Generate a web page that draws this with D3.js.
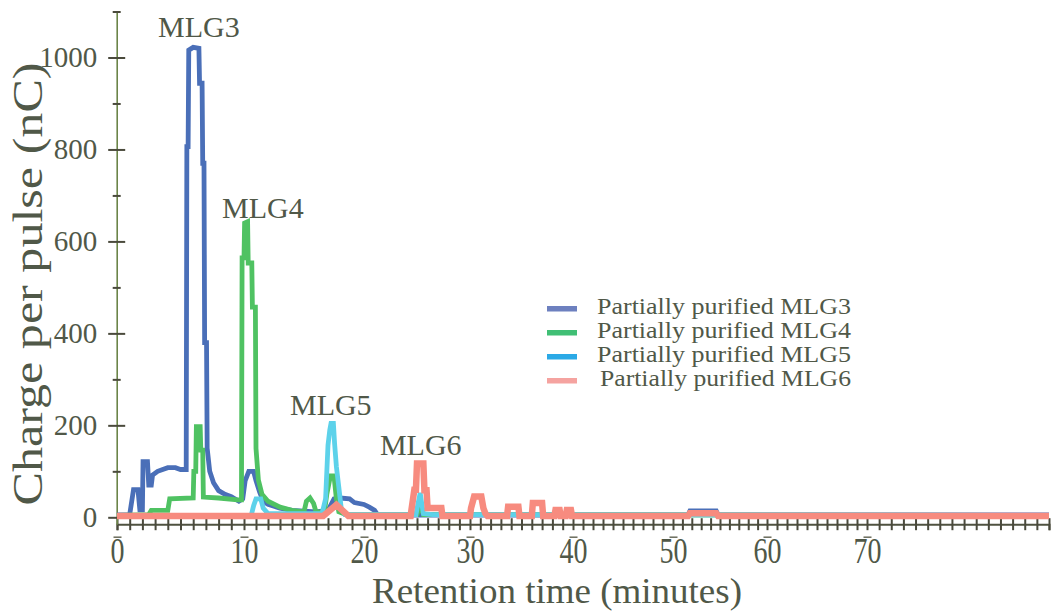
<!DOCTYPE html>
<html>
<head>
<meta charset="utf-8">
<script src="https://cdn.jsdelivr.net/npm/d3@7"></script>
<style>
  body { margin: 0; background: #ffffff; }
  svg { display: block; }
  svg text { font-family: "Liberation Serif", Tinos, "Times New Roman", Times, serif !important; }
</style>
</head>
<body>
<svg id="chart" width="1051" height="614"></svg>
<script>
// Pulsed amperometric detector traces: [retention time (min), charge per pulse (nC)]
const mlg3 = [[0,5],[1.0,6],[1.3,60],[1.65,60],[1.8,16],[2.0,16],[2.05,121],[2.4,121],[2.5,70],[2.7,70],
  [2.8,92],[3.2,100],[3.6,104],[4.0,108],[4.6,108],[5.0,104],[5.45,104],[5.5,806],[5.6,806],[5.65,1016],
  [6.0,1022],[6.45,1020],[6.5,944],[6.7,944],[6.75,770],[6.85,770],[6.9,380],[7.05,380],[7.1,150],
  [7.3,100],[7.6,75],[8.0,58],[8.5,50],[9.0,45],[9.6,35],[9.9,40],[10.1,80],[10.4,100],[10.8,100],
  [11.0,80],[11.3,55],[11.6,35],[12.0,28],[13.0,20],[14.0,15],[16.0,12],[17.0,15],[17.5,40],[18.0,42],
  [18.8,40],[19.2,32],[20.0,28],[20.5,22],[21.0,15],[21.3,5],[51.6,5],[51.8,14],[54.6,14],[54.8,5],[85,5]];

const mlg4 = [[0,4],[2.5,6],[2.7,15],[4.0,15],[4.15,40],[6.0,42],[6.05,100],[6.2,100],[6.25,197],
  [6.55,197],[6.6,146],[6.75,146],[6.8,44],[8.0,42],[9.5,38],[9.8,38],[9.85,564],[10.0,564],[10.05,640],
  [10.3,643],[10.35,553],[10.65,553],[10.7,457],[10.95,457],[11.0,150],[11.2,81],[11.5,50],[12.0,35],
  [13.0,22],[14.0,15],[15.0,12],[15.2,35],[15.5,42],[15.8,30],[16.0,12],[16.7,12],[16.9,50],[17.2,90],
  [17.5,90],[17.7,40],[17.9,12],[18.5,6],[25.0,6],[25.2,20],[25.4,20],[25.6,6],[85,4]];

const mlg5 = [[0,4],[10.6,4],[10.8,25],[11.0,40],[11.4,40],[11.6,20],[12.0,8],[16.5,8],[16.8,40],
  [17.0,157],[17.15,190],[17.25,204],[17.45,204],[17.55,160],[17.7,110],[17.9,66],[18.1,20],[18.4,6],
  [24.9,6],[25.1,30],[25.3,53],[25.45,30],[25.6,8],[26.5,6],[85,4]];

const mlg6 = [[0,3],[16.6,3],[17.7,27],[18.7,3],[24.4,3],[24.5,20],[24.75,60],[24.9,60],[25.0,117],
  [25.6,117],[25.7,59],[25.9,59],[26.0,20],[27.3,20],[27.4,3],[30.0,3],[30.1,20],[30.4,45],[31.1,45],
  [31.3,20],[31.5,8],[31.7,3],[33.6,3],[33.7,23],[34.7,23],[34.8,3],[36.0,3],[36.1,31],[37.0,31],
  [37.1,3],[38.2,3],[38.3,16],[38.7,16],[38.8,3],[39.3,3],[39.4,16],[39.8,16],[39.9,3],[51.6,3],
  [51.8,9],[54.6,9],[54.8,3],[85,3]];

const seriesNames = ["Partially purified MLG3", "Partially purified MLG4",
                     "Partially purified MLG5", "Partially purified MLG6"];
const peakNames = ["MLG3", "MLG4", "MLG5", "MLG6"];
const xTickLabels = [0, 10, 20, 30, 40, 50, 60, 70];
const yTickLabels = [0, 200, 400, 600, 800, 1000];

// ---- layout & style ----
const serif = '"Liberation Serif", Tinos, "Times New Roman", Times, serif';
const lineColors   = ["#4a6fb8", "#4fc262", "#5dd2ea", "#f78b7f"];
const swatchColors = ["#6d80bf", "#40bf75", "#2ba9e6", "#f5a3a0"];
const lineWidths   = [4.8, 4.8, 4.8, 6.5];
const textColor = "#505848";
const tickColor = "#4a4a3c";

const svg = d3.select("#chart").attr("font-family", serif);

// Time axis: piecewise-linear scale through the labelled minute stops
const x = d3.scaleLinear()
  .domain([0, 10, 20, 30, 40, 50, 60, 70, 85])
  .range([117, 244, 364, 470, 573, 673, 767, 867, 1049]);
const y = d3.scaleLinear().domain([-15, 1100]).range([524.2, 11.5]);

// ---- x axis ----
const xAxisG = svg.append("g")
  .attr("transform", `translate(0,${y(-15)})`)
  .call(d3.axisBottom(x)
    .tickValues(d3.range(0, 86, 1))
    .tickSizeOuter(0)
    .tickSize(6)
    .tickFormat(d => xTickLabels.includes(d) ? d : ""));
xAxisG.attr("font-family", serif);
xAxisG.select(".domain").attr("stroke", "#4f5240").attr("stroke-width", 2);
xAxisG.selectAll(".tick line").attr("y1", -6).attr("y2", 6)
  .attr("stroke", tickColor).attr("stroke-width", 2);
xAxisG.selectAll(".tick text")
  .attr("y", 30.8).attr("dy", null)
  .attr("transform", "scale(1,1.25)")
  .attr("fill", textColor)
  .attr("font-size", 28);
// short bar mark above each labelled minute
xAxisG.selectAll(".tick")
  .filter(d => xTickLabels.includes(d))
  .append("line")
  .attr("x1", -4).attr("x2", 4)
  .attr("y1", 13).attr("y2", 13)
  .attr("stroke", "#6a6c5c").attr("stroke-width", 1.5);

// ---- y axis ----
const yAxisG = svg.append("g")
  .attr("transform", `translate(${x(0) - 0.3},0)`)
  .call(d3.axisLeft(y)
    .tickValues(d3.range(0, 1101, 100))
    .tickSizeOuter(0)
    .tickFormat(d => yTickLabels.includes(d) ? d : ""));
yAxisG.attr("font-family", serif);
yAxisG.select(".domain").attr("stroke", "#6b8448").attr("stroke-width", 1.6);
yAxisG.selectAll(".tick line")
  .attr("x1", d => yTickLabels.includes(d) ? -8.5 : -4)
  .attr("x2", d => yTickLabels.includes(d) ? 8.5 : 4)
  .attr("stroke", tickColor).attr("stroke-width", 2);
yAxisG.selectAll(".tick text")
  .attr("x", -19.5)
  .attr("fill", textColor)
  .attr("font-size", 29);

// ---- traces ----
const line = d3.line().x(d => x(d[0])).y(d => y(d[1]));
[mlg3, mlg4, mlg5, mlg6].forEach((s, i) => {
  svg.append("path")
    .datum(s)
    .attr("d", line)
    .attr("fill", "none")
    .attr("stroke", lineColors[i])
    .attr("stroke-width", lineWidths[i])
    .attr("stroke-linejoin", "miter")
    .attr("stroke-miterlimit", 2);
});

// ---- peak labels ----
const peakAnchors = [[3.23, 1044], [8.27, 651], [13.83, 222], [21.5, 135]];
peakNames.forEach((n, i) => {
  svg.append("text")
    .attr("x", x(peakAnchors[i][0]))
    .attr("y", y(peakAnchors[i][1]))
    .attr("fill", textColor)
    .attr("font-size", 30)
    .text(n);
});

// ---- legend ----
const legendRows = [314, 338, 362, 386];
seriesNames.forEach((n, i) => {
  svg.append("rect")
    .attr("x", 547).attr("y", legendRows[i] - 8)
    .attr("width", 30).attr("height", 5.5)
    .attr("fill", swatchColors[i]);
  svg.append("text")
    .attr("x", i === 3 ? 600 : 597)
    .attr("y", legendRows[i])
    .attr("fill", textColor)
    .attr("font-size", 22.5)
    .attr("textLength", i === 3 ? 251 : 254)
    .attr("lengthAdjust", "spacingAndGlyphs")
    .text(n);
});

// ---- axis titles ----
svg.append("text")
  .attr("x", 557).attr("y", 603)
  .attr("text-anchor", "middle")
  .attr("fill", textColor)
  .attr("font-size", 36)
  .attr("textLength", 370)
  .attr("lengthAdjust", "spacingAndGlyphs")
  .text("Retention time (minutes)");

svg.append("text")
  .attr("transform", "translate(42,284) rotate(-90)")
  .attr("text-anchor", "middle")
  .attr("fill", textColor)
  .attr("font-size", 43)
  .attr("textLength", 443)
  .attr("lengthAdjust", "spacingAndGlyphs")
  .text("Charge per pulse (nC)");
</script>
</body>
</html>
